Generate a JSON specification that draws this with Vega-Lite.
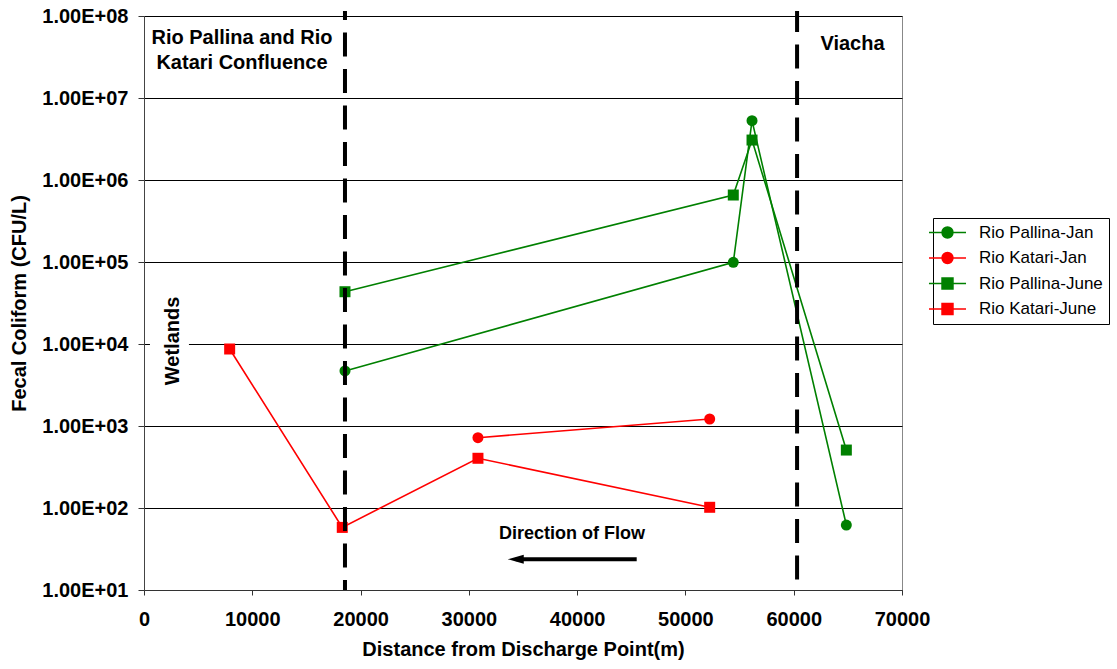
{
  "$schema": "https://vega.github.io/schema/vega-lite/v6.json",
  "width": 758,
  "height": 574,
  "autosize": {"type": "none"},
  "padding": {"left": 144, "top": 16, "right": 215, "bottom": 79},
  "background": "white",
  "config": {
    "font": "Liberation Sans",
    "view": {"stroke": "#888888", "strokeWidth": 1}
  },
  "datasets": {
    "obs": [
      {"series": "Rio Pallina-Jan", "month": "Jan", "dist": 18560, "cfu": 4690},
      {"series": "Rio Pallina-Jan", "month": "Jan", "dist": 54420, "cfu": 99000},
      {"series": "Rio Pallina-Jan", "month": "Jan", "dist": 56150, "cfu": 5290000},
      {"series": "Rio Pallina-Jan", "month": "Jan", "dist": 64860, "cfu": 62},
      {"series": "Rio Katari-Jan", "month": "Jan", "dist": 30840, "cfu": 720},
      {"series": "Rio Katari-Jan", "month": "Jan", "dist": 52240, "cfu": 1217},
      {"series": "Rio Pallina-June", "month": "June", "dist": 18560, "cfu": 43400},
      {"series": "Rio Pallina-June", "month": "June", "dist": 54420, "cfu": 656000},
      {"series": "Rio Pallina-June", "month": "June", "dist": 56150, "cfu": 3070000},
      {"series": "Rio Pallina-June", "month": "June", "dist": 64860, "cfu": 509},
      {"series": "Rio Katari-June", "month": "June", "dist": 7910, "cfu": 8690},
      {"series": "Rio Katari-June", "month": "June", "dist": 18310, "cfu": 58},
      {"series": "Rio Katari-June", "month": "June", "dist": 30840, "cfu": 404},
      {"series": "Rio Katari-June", "month": "June", "dist": 52240, "cfu": 102}
    ],
    "sites": [
      {"site": "Confluence", "dist": 18560, "cfu": 115000000, "cfu2": 10},
      {"site": "Viacha", "dist": 60310, "cfu": 115000000, "cfu2": 10}
    ],
    "notes": [
      {"label": "Rio Pallina and Rio", "dist": 9050, "cfu": 53500000},
      {"label": "Katari Confluence", "dist": 9050, "cfu": 26500000},
      {"label": "Viacha", "dist": 65430, "cfu": 45200000}
    ],
    "flow": [
      {"label": "Direction of Flow", "dist": 39530, "dist2": 45500, "tip": 34330, "cfu": 48.2, "arrow": 23.7}
    ],
    "wet": [
      {"label": "Wetlands", "dist": 2680, "cfu": 10890, "dist2": 550, "dist3": 4150, "top": 45600, "bottom": 2600}
    ]
  },
  "layer": [
    {
      "data": {"name": "obs"},
      "mark": {"type": "line", "strokeWidth": 1.6},
      "encoding": {
        "x": {
          "field": "dist", "type": "quantitative",
          "scale": {"domain": [0, 70000], "nice": false, "zero": false},
          "axis": {
            "title": "Distance from Discharge Point(m)",
            "values": [0, 10000, 20000, 30000, 40000, 50000, 60000, 70000],
            "format": "d",
            "grid": false,
            "labelFont": "Liberation Sans", "labelFontSize": 20, "labelFontWeight": "bold", "labelColor": "#000000",
            "labelPadding": 14, "labelFlush": false,
            "tickSize": 5, "tickColor": "#333333", "domainColor": "#333333",
            "titleFont": "Liberation Sans", "titleFontSize": 20, "titleFontWeight": "bold", "titleColor": "#000000",
            "titlePadding": 10
          }
        },
        "y": {
          "field": "cfu", "type": "quantitative",
          "scale": {"type": "log", "domain": [10, 100000000], "nice": false},
          "axis": {
            "title": "Fecal Coliform (CFU/L)",
            "values": [10, 100, 1000, 10000, 100000, 1000000, 10000000, 100000000],
            "labelExpr": "'1.00E+0' + round(log(datum.value)/LN10)",
            "grid": true, "gridColor": "#000000", "gridWidth": 1, "gridOpacity": 1,
            "labelFont": "Liberation Sans", "labelFontSize": 20, "labelFontWeight": "bold", "labelColor": "#000000",
            "labelPadding": 10, "labelFlush": false,
            "tickSize": 6, "tickColor": "#333333", "domainColor": "#444444",
            "titleFont": "Liberation Sans", "titleFontSize": 20, "titleFontWeight": "bold", "titleColor": "#000000",
            "titlePadding": 12
          }
        },
        "color": {
          "field": "series", "type": "nominal",
          "scale": {
            "domain": ["Rio Pallina-Jan", "Rio Katari-Jan", "Rio Pallina-June", "Rio Katari-June"],
            "range": ["#008000", "#ff0000", "#008000", "#ff0000"]
          },
          "legend": {
            "title": null,
            "orient": "none",
            "legendX": 789,
            "legendY": 202,
            "strokeColor": "#000000",
            "fillColor": "#ffffff",
            "padding": 6,
            "cornerRadius": 0,
            "labelFont": "Liberation Sans",
            "labelFontSize": 17,
            "labelColor": "#000000",
            "labelOffset": 23,
            "symbolSize": 225,
            "rowPadding": 7.5,
            "symbolStrokeWidth": 1.5,
            "encode": {
              "symbols": {
                "update": {
                  "shape": {"signal": "indexof(datum.value, 'June') > 0 ? 'M-2.47,0H2.47M-0.73,-0.73H0.73V0.73H-0.73Z' : 'M-2.47,0H2.47M0.73,0A0.73,0.73 0 1,1 -0.73,0A0.73,0.73 0 1,1 0.73,0Z'"},
                  "fill": {"scale": "color", "field": "value"},
                  "stroke": {"scale": "color", "field": "value"},
                  "opacity": {"value": 1},
                  "fillOpacity": {"value": 1},
                  "strokeWidth": {"value": 1.5}
                }
              }
            }
          }
        }
      }
    },
    {
      "data": {"name": "obs"},
      "transform": [{"filter": "datum.month === 'Jan'"}],
      "mark": {"type": "point", "shape": "circle", "filled": true, "size": 121, "opacity": 1},
      "encoding": {
        "x": {"field": "dist", "type": "quantitative"},
        "y": {"field": "cfu", "type": "quantitative"},
        "color": {"field": "series", "type": "nominal"}
      }
    },
    {
      "data": {"name": "obs"},
      "transform": [{"filter": "datum.month === 'June'"}],
      "mark": {"type": "point", "shape": "square", "filled": true, "size": 121, "opacity": 1},
      "encoding": {
        "x": {"field": "dist", "type": "quantitative"},
        "y": {"field": "cfu", "type": "quantitative"},
        "color": {"field": "series", "type": "nominal"}
      }
    },
    {
      "data": {"name": "wet"},
      "mark": {"type": "rect", "fill": "#ffffff"},
      "encoding": {
        "x": {"field": "dist2", "type": "quantitative"},
        "x2": {"field": "dist3"},
        "y": {"field": "top", "type": "quantitative"},
        "y2": {"field": "bottom"}
      }
    },
    {
      "data": {"name": "sites"},
      "transform": [{"filter": "datum.site === 'Confluence'"}],
      "mark": {"type": "rule", "color": "#000000", "strokeWidth": 4, "strokeDash": [24, 12.5], "strokeDashOffset": 15},
      "encoding": {
        "x": {"field": "dist", "type": "quantitative"},
        "y": {"field": "cfu", "type": "quantitative"},
        "y2": {"field": "cfu2"}
      }
    },
    {
      "data": {"name": "sites"},
      "transform": [{"filter": "datum.site === 'Viacha'"}],
      "mark": {"type": "rule", "color": "#000000", "strokeWidth": 4, "strokeDash": [24, 12.5], "strokeDashOffset": 3},
      "encoding": {
        "x": {"field": "dist", "type": "quantitative"},
        "y": {"field": "cfu", "type": "quantitative"},
        "y2": {"field": "cfu2"}
      }
    },
    {
      "data": {"name": "notes"},
      "mark": {"type": "text", "font": "Liberation Sans", "fontSize": 20, "fontWeight": "bold", "color": "#000000", "align": "center", "baseline": "middle"},
      "encoding": {
        "x": {"field": "dist", "type": "quantitative"},
        "y": {"field": "cfu", "type": "quantitative"},
        "text": {"field": "label"}
      }
    },
    {
      "data": {"name": "wet"},
      "mark": {"type": "text", "font": "Liberation Sans", "fontSize": 20, "fontWeight": "bold", "color": "#000000", "align": "center", "baseline": "middle", "angle": 270},
      "encoding": {
        "x": {"field": "dist", "type": "quantitative"},
        "y": {"field": "cfu", "type": "quantitative"},
        "text": {"field": "label"}
      }
    },
    {
      "data": {"name": "flow"},
      "mark": {"type": "text", "font": "Liberation Sans", "fontSize": 18, "fontWeight": "bold", "color": "#000000", "align": "center", "baseline": "middle"},
      "encoding": {
        "x": {"field": "dist", "type": "quantitative"},
        "y": {"field": "cfu", "type": "quantitative"},
        "text": {"field": "label"}
      }
    },
    {
      "data": {"name": "flow"},
      "mark": {"type": "rule", "color": "#000000", "strokeWidth": 4},
      "encoding": {
        "x": {"field": "tip", "type": "quantitative"},
        "x2": {"field": "dist2"},
        "y": {"field": "arrow", "type": "quantitative"}
      }
    },
    {
      "data": {"name": "flow"},
      "mark": {"type": "point", "shape": "M-1,0L1,-0.55L1,0.55Z", "size": 256, "filled": true, "color": "#000000", "opacity": 1},
      "encoding": {
        "x": {"field": "tip", "type": "quantitative"},
        "y": {"field": "arrow", "type": "quantitative"}
      }
    }
  ]
}
